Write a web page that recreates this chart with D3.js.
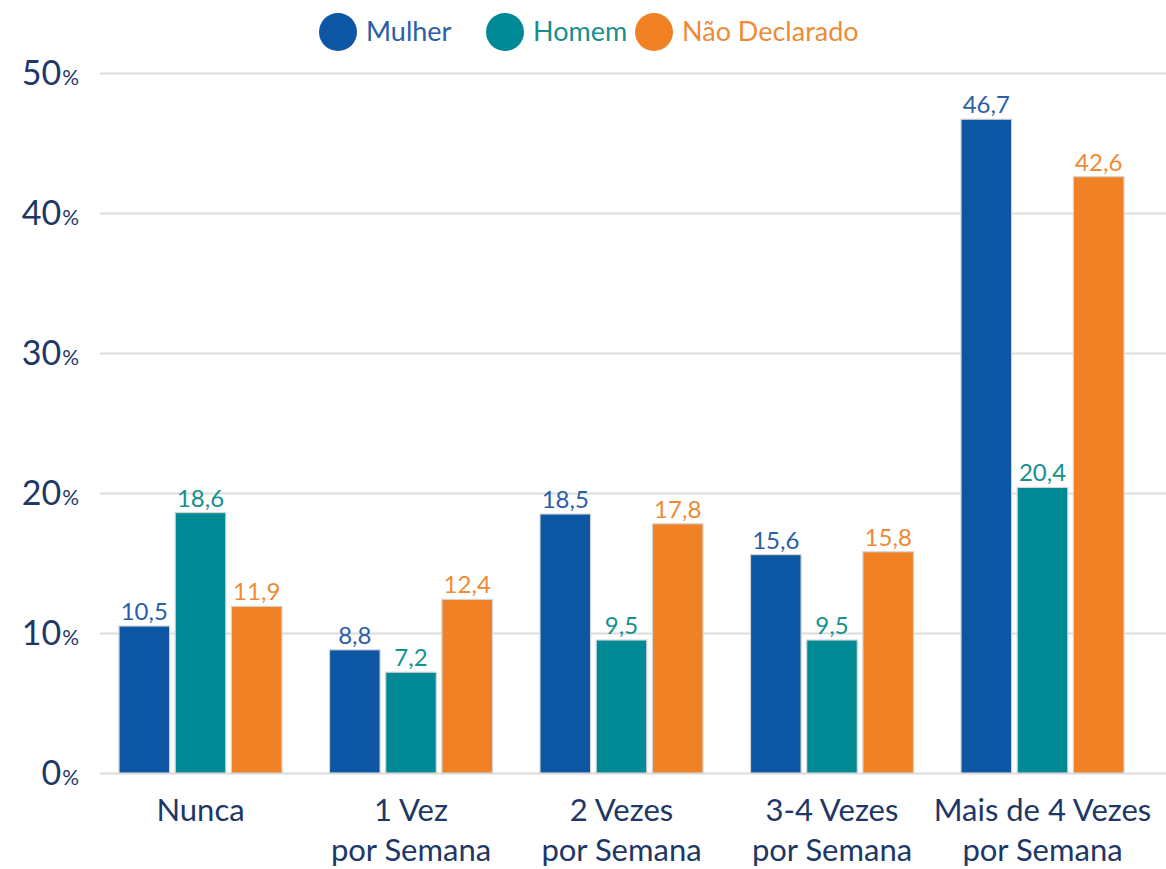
<!DOCTYPE html>
<html>
<head>
<meta charset="utf-8">
<script src="https://cdn.jsdelivr.net/npm/d3@7"></script>
<style>
  html, body { margin: 0; padding: 0; background: #fff; }
  svg { display: block; font-family: Lato, "Open Sans", sans-serif; }
</style>
</head>
<body>
<svg id="chart" width="1166" height="869"></svg>
<script>
const categories = [["Nunca"], ["1 Vez", "por Semana"], ["2 Vezes", "por Semana"], ["3-4 Vezes", "por Semana"], ["Mais de 4 Vezes", "por Semana"]];
const seriesNames = ["Mulher", "Homem", "Não Declarado"];
const mulher = [10.5, 8.8, 18.5, 15.6, 46.7];
const homem = [18.6, 7.2, 9.5, 9.5, 20.4];
const naoDeclarado = [11.9, 12.4, 17.8, 15.8, 42.6];
const yTicks = [0, 10, 20, 30, 40, 50];

const seriesValues = [mulher, homem, naoDeclarado];
const barColors = ["#0d56a3", "#008a96", "#f08125"];
const labelColors = ["#2b5ea6", "#15908f", "#ee8a35"];
const navy = "#1d3767";

const svg = d3.select("#chart");
const catKeys = categories.map(c => c.join(" "));

const y = d3.scaleLinear().domain([0, 50]).range([773, 73]);
const x0 = d3.scaleBand().domain(catKeys).range([95.25, 1147.75]).padding(0);
const groupW = 163;
const x1 = d3.scaleBand().domain(seriesNames)
  .range([(x0.bandwidth() - groupW) / 2, (x0.bandwidth() + groupW) / 2])
  .paddingInner(0.1);

// gridlines
const gridG = svg.append("g").attr("transform", "translate(100,0)")
  .call(d3.axisLeft(y).tickValues(yTicks).tickSize(-1066).tickFormat(""));
gridG.select(".domain").remove();
gridG.selectAll(".tick line").attr("stroke", "#dcdcdc").attr("stroke-width", 2);

// y tick labels
const tl = svg.append("g").selectAll("text").data(yTicks).join("text")
  .attr("x", 79).attr("y", d => y(d) + 12)
  .attr("text-anchor", "end").attr("fill", navy);
tl.append("tspan").attr("font-size", 34).text(d => d);
tl.append("tspan").attr("font-size", 21).attr("dx", 1).text("%");

// bars
const groups = svg.append("g").selectAll("g").data(catKeys).join("g")
  .attr("transform", d => `translate(${x0(d)},0)`);

groups.each(function(cat, ci) {
  const g = d3.select(this);
  const rows = seriesNames.map((s, si) => ({ s, si, v: seriesValues[si][ci] }));
  g.selectAll("rect").data(rows).join("rect")
    .attr("x", d => x1(d.s)).attr("width", x1.bandwidth())
    .attr("y", d => y(d.v)).attr("height", d => y(0) - y(d.v))
    .attr("fill", d => barColors[d.si])
    .attr("stroke", "#d4d4d4").attr("stroke-width", 1.2);
  g.selectAll("text.val").data(rows).join("text").attr("class", "val")
    .attr("x", d => x1(d.s) + x1.bandwidth() / 2)
    .attr("y", d => y(d.v) - 6)
    .attr("text-anchor", "middle").attr("font-size", 24)
    .attr("fill", d => labelColors[d.si])
    .text(d => d3.format(".1f")(d.v).replace(".", ","));
});

// category labels
const cl = svg.append("g").selectAll("text").data(categories).join("text")
  .attr("x", (d, i) => x0(catKeys[i]) + x0.bandwidth() / 2)
  .attr("y", 821).attr("text-anchor", "middle")
  .attr("font-size", 31).attr("fill", navy);
cl.selectAll("tspan").data(d => d).join("tspan")
  .attr("x", function() { return d3.select(this.parentNode).attr("x"); })
  .attr("dy", (d, i) => i === 0 ? 0 : 40)
  .text(d => d);

// legend
const legendX = [338, 505, 654];
const leg = svg.append("g").selectAll("g").data(seriesNames).join("g")
  .attr("transform", (d, i) => `translate(${legendX[i]},32)`);
leg.append("circle").attr("r", 19).attr("fill", (d, i) => barColors[i]);
leg.append("text").attr("x", 28).attr("y", 9).attr("font-size", 27)
  .attr("fill", (d, i) => labelColors[i]).text(d => d);
</script>
</body>
</html>
